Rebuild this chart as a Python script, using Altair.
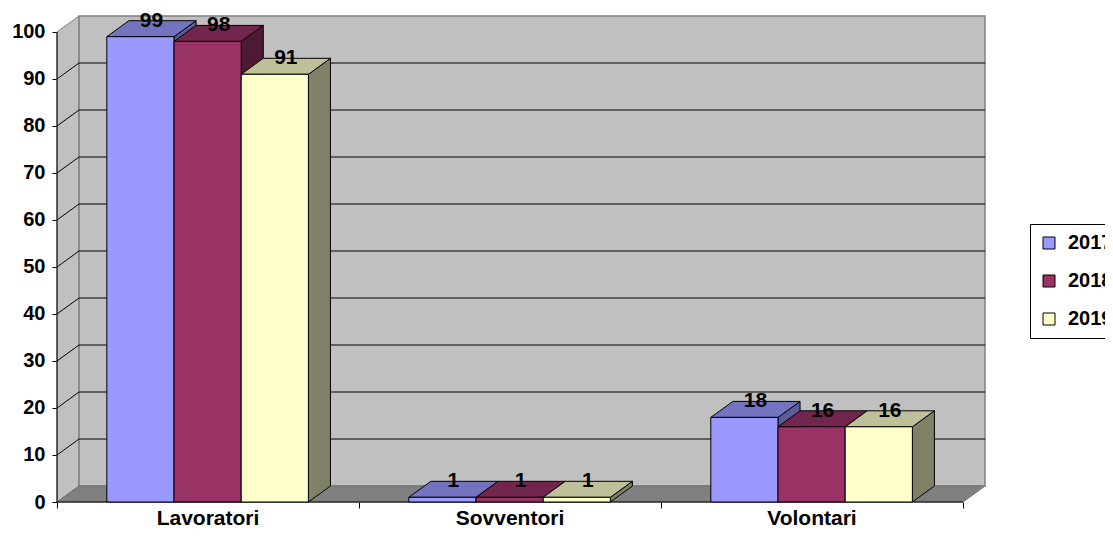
import altair as alt
import pandas as pd

# ---------------- data ----------------
categories = ["Lavoratori", "Sovventori", "Volontari"]
years = ["2017", "2018", "2019"]
values_2017 = [99, 1, 18]
values_2018 = [98, 1, 16]
values_2019 = [91, 1, 16]
y_ticks = [0, 10, 20, 30, 40, 50, 60, 70, 80, 90, 100]
series = {"2017": values_2017, "2018": values_2018, "2019": values_2019}

# ---------------- style ----------------
FONT = "Liberation Sans"
front_colors = ["#9999FF", "#993366", "#FFFFCC"]
top_colors = ["#7373BF", "#73264D", "#BFBF99"]
side_colors = ["#5C5C99", "#4D1A33", "#808066"]

START = 0.165      # first bar offset inside a category band
BAR_W = 0.2225     # bar width (category band = 1)
DX = 0.073         # depth offset along x (band units)
DY = 3.4           # depth offset along y (value units)
YMAX = 100
NCAT = len(categories)

W, H = 928, 486

# ---------------- tables built from the data ----------------
bars, tops, sides, labels = [], [], [], []
for i, cat in enumerate(categories):
    for j, yr in enumerate(years):
        v = series[yr][i]
        x0 = i + START + j * BAR_W
        x1 = x0 + BAR_W
        bid = f"{cat}-{yr}"
        bars.append(dict(id=bid, year=yr, x0=x0, x1=x1, v=v))
        tops += [
            dict(id=bid, year=yr, x=x0, y=v, y2=v),
            dict(id=bid, year=yr, x=x0 + DX, y=v, y2=v + DY),
            dict(id=bid, year=yr, x=x1, y=v, y2=v + DY),
            dict(id=bid, year=yr, x=x1 + DX, y=v + DY, y2=v + DY),
        ]
        sides += [
            dict(id=bid, year=yr, x=x1, y=0, y2=v),
            dict(id=bid, year=yr, x=x1 + DX, y=DY, y2=v + DY),
        ]
        labels.append(dict(x=(x0 + x1) / 2 + DX / 2, y=v + DY, text=str(v)))

bars = pd.DataFrame(bars)
tops = pd.DataFrame(tops)
sides = pd.DataFrame(sides)
labels = pd.DataFrame(labels)

cat_df = pd.DataFrame({"x": [i + 0.5 for i in range(NCAT)], "y": 0, "text": categories})
grid_df = pd.DataFrame({"v": [t for t in y_ticks if 0 < t < YMAX]})
grid_df["vb"] = grid_df["v"] + DY

left_wall = pd.DataFrame({"x": [0, DX], "y": [0, DY], "y2": [YMAX, YMAX + DY]})
floor = pd.DataFrame({"x": [0, DX, NCAT, NCAT + DX], "y": [0, 0, 0, DY], "y2": [0, DY, DY, DY]})
back_wall = pd.DataFrame({"x": [DX], "x2": [NCAT + DX], "y": [DY], "y2": [YMAX + DY]})
front_axes = pd.DataFrame({"x": [0, 0], "x2": [0, NCAT], "y": [0, 0], "y2": [YMAX, 0]})

xs = alt.Scale(domain=[0, NCAT + DX], nice=False, zero=False)
ys = alt.Scale(domain=[0, YMAX + DY], nice=False, zero=False)

base_axis_y = alt.Axis(values=y_ticks, domain=False, grid=False, ticks=True, tickColor="black",
                       tickSize=5, labelFont=FONT, labelFontSize=20, labelFontWeight="bold",
                       labelColor="black", labelPadding=7, title=None)
base_axis_x = alt.Axis(values=list(range(NCAT + 1)), domain=False, grid=False, ticks=True,
                       tickColor="black", tickSize=6, labels=False, title=None)

wall = alt.Chart(left_wall).mark_area(fill="#C0C0C0", stroke="#808080", strokeWidth=1,
                                      opacity=1).encode(
    x=alt.X("x:Q", scale=xs, axis=base_axis_x),
    y=alt.Y("y:Q", scale=ys, axis=base_axis_y),
    y2="y2:Q",
)
back = alt.Chart(back_wall).mark_rect(fill="#C0C0C0", stroke="#808080", strokeWidth=1.5).encode(
    x="x:Q", x2="x2:Q", y="y:Q", y2="y2:Q")
floor_l = alt.Chart(floor).mark_area(fill="#808080", stroke="#707070", strokeWidth=1,
                                     opacity=1).encode(x="x:Q", y="y:Q", y2="y2:Q")
grid_back = alt.Chart(grid_df).mark_rule(color="black", strokeWidth=1).encode(
    x=alt.datum(DX), x2=alt.datum(NCAT + DX), y="vb:Q")
grid_side = alt.Chart(grid_df).mark_rule(color="black", strokeWidth=1).encode(
    x=alt.datum(0), x2=alt.datum(DX), y="v:Q", y2="vb:Q")
axes_l = alt.Chart(front_axes).mark_rule(color="black", strokeWidth=1).encode(
    x="x:Q", x2="x2:Q", y="y:Q", y2="y2:Q")

side_l = alt.Chart(sides).mark_area(stroke="black", strokeWidth=1, opacity=1).encode(
    x="x:Q", y="y:Q", y2="y2:Q", detail="id:N",
    fill=alt.Fill("year:N", scale=alt.Scale(domain=years, range=side_colors), legend=None),
)
top_l = alt.Chart(tops).mark_area(stroke="black", strokeWidth=1, opacity=1).encode(
    x="x:Q", y="y:Q", y2="y2:Q", detail="id:N",
    fill=alt.Fill("year:N", scale=alt.Scale(domain=years, range=top_colors), legend=None),
)
front_l = alt.Chart(bars).mark_rect(stroke="black", strokeWidth=1, opacity=1).encode(
    x="x0:Q", x2="x1:Q", y=alt.Y("v:Q"), y2=alt.datum(0),
    fill=alt.Fill("year:N", scale=alt.Scale(domain=years, range=front_colors),
                  legend=alt.Legend(title=None, orient="none", legendX=973, legendY=208,
                                    symbolType="square", symbolSize=144,
                                    symbolStrokeColor="black", symbolStrokeWidth=1,
                                    symbolOpacity=1, labelFont=FONT, labelFontSize=20,
                                    labelFontWeight="bold", labelColor="black",
                                    labelOffset=9, padding=9, rowPadding=18,
                                    strokeColor="black", fillColor="white")),
)
val_l = alt.Chart(labels).mark_text(font=FONT, fontSize=21, fontWeight="bold", color="black",
                                    baseline="middle", align="center").encode(
    x="x:Q", y="y:Q", text="text:N")
cat_l = alt.Chart(cat_df).mark_text(font=FONT, fontSize=21, fontWeight="bold", color="black",
                                    baseline="middle", align="center", dy=17).encode(
    x="x:Q", y="y:Q", text="text:N")

chart = alt.layer(
    wall, back, floor_l, grid_back, grid_side, axes_l, side_l, top_l, front_l, val_l, cat_l
).resolve_scale(fill="independent").properties(
    width=W, height=H,
    padding={"left": 49, "top": 8, "right": 120, "bottom": 28},
    autosize=alt.AutoSizeParams(type="none"),
    background="white",
).configure_view(stroke=None)

chart.save("out.html", embed_options={"renderer": "svg", "actions": False})
